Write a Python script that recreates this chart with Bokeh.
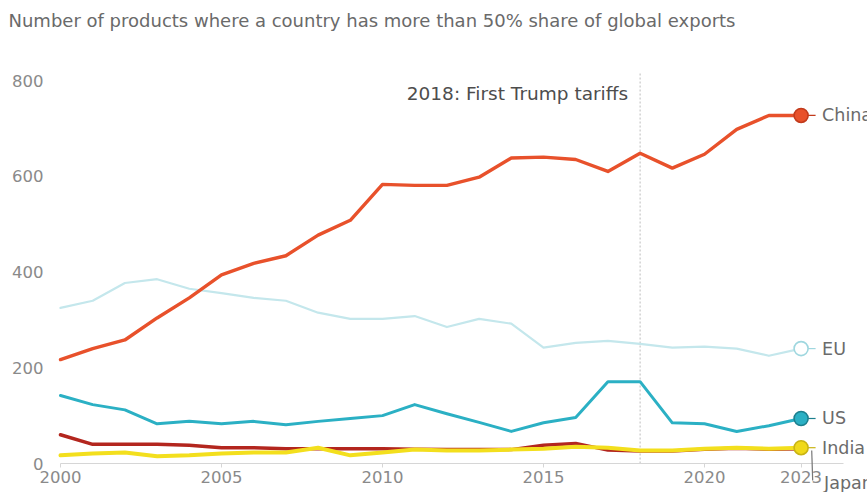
from bokeh.plotting import figure
from bokeh.models import Range1d, FixedTicker, Label, LabelSet, ColumnDataSource, Arrow
from bokeh.core.properties import value
from bokeh.embed import file_html
from bokeh.resources import INLINE

years = list(range(2000, 2024))
china = [217, 240, 258, 304, 346, 394, 418, 434, 477, 508, 583, 581, 581, 598, 638, 640, 635, 610, 648, 617, 646, 698, 727, 727]
eu = [325, 340, 377, 385, 365, 356, 346, 340, 315, 302, 302, 308, 285, 302, 292, 242, 252, 256, 250, 242, 244, 240, 225, 240]
us = [142, 123, 112, 83, 88, 83, 88, 81, 88, 94, 100, 123, 104, 86, 67, 85, 96, 171, 171, 85, 83, 67, 79, 94]
japan = [60, 40, 40, 40, 38, 33, 33, 31, 31, 31, 31, 30, 29, 29, 29, 38, 42, 28, 26, 26, 30, 32, 30, 31]
india = [17, 21, 23, 15, 17, 21, 23, 23, 33, 17, 23, 29, 27, 27, 29, 31, 35, 33, 27, 27, 31, 33, 31, 33]
x_ticks = [2000, 2005, 2010, 2015, 2020, 2023]
y_ticks = [0, 200, 400, 600, 800]
title_text = "Number of products where a country has more than 50% share of global exports"
event_year = 2018
event_text = "2018: First Trump tariffs"

FONT = "DejaVu Sans"
W, H = 867, 492
X0_PX, Y0_PX = 60, 463          # pixel position of (2000, 0)
px_per_year = 32.2
px_per_unit = 0.47875

def cx(px):
    return 2000 + (px - X0_PX) / px_per_year

def cy(py):
    return (Y0_PX - py) / px_per_unit

p = figure(width=W, height=H, output_backend="svg", toolbar_location=None,
           x_range=Range1d(cx(0), cx(W)), y_range=Range1d(cy(H), cy(0)),
           min_border=0, min_border_left=0, min_border_right=0,
           min_border_top=0, min_border_bottom=0)
p.outline_line_color = None
p.grid.visible = False
p.background_fill_color = "white"
p.border_fill_color = "white"

p.xaxis.fixed_location = 0
p.xaxis.bounds = (2000, cx(843))
p.xaxis.ticker = FixedTicker(ticks=x_ticks)
p.xaxis.axis_line_color = "#d6d6d6"
p.xaxis.major_tick_line_color = "#d6d6d6"
p.xaxis.major_tick_in = 0
p.xaxis.major_tick_out = 4
p.xaxis.minor_tick_line_color = None
p.xaxis.major_label_standoff = 3
p.xaxis.major_label_text_font = FONT
p.xaxis.major_label_text_font_size = "16.5px"
p.xaxis.major_label_text_color = "#8a8a8a"

p.yaxis.fixed_location = 2000
p.yaxis.ticker = FixedTicker(ticks=y_ticks)
p.yaxis.axis_line_color = None
p.yaxis.major_tick_line_color = None
p.yaxis.minor_tick_line_color = None
p.yaxis.major_tick_in = 0
p.yaxis.major_tick_out = 0
p.yaxis.major_label_standoff = 17
p.yaxis.major_label_text_font = FONT
p.yaxis.major_label_text_font_size = "16.5px"
p.yaxis.major_label_text_color = "#8a8a8a"

# reference line for the 2018 tariffs
p.segment(x0=[event_year], y0=[0], x1=[event_year], y1=[cy(72)],
          line_color="#bdbdbd", line_width=1, line_dash="2 2")

series = [
    ("EU", eu, "#c4e7ec", 2.2, "white", "#9fd7df"),
    ("US", us, "#2bb0c4", 3, "#2bb0c4", "#1c7f8e"),
    ("Japan", japan, "#b3261e", 3.5, None, None),
    ("India", india, "#f3df1d", 4, "#f0d91a", "#c9b414"),
    ("China", china, "#e8512b", 3.4, "#e8512b", "#c23b1c"),
]

for name, vals, col, lw, fill, outline in series:
    p.line(years, vals, line_color=col, line_width=lw, line_join="round", line_cap="round")

for name, vals, col, lw, fill, outline in series:
    if fill is None:
        continue
    p.segment(x0=[years[-1]], y0=[vals[-1]], x1=[years[-1] + 0.45], y1=[vals[-1]],
              line_color=outline, line_width=1.2)
    p.scatter([years[-1]], [vals[-1]], size=14, fill_color=fill, line_color=outline, line_width=1.6)

lab_names = ["China", "EU", "US", "India"]
lab_vals = [china[-1], eu[-1], us[-1], india[-1]]
src = ColumnDataSource(dict(x=[years[-1]] * 4, y=lab_vals, t=lab_names))
p.add_layout(LabelSet(x="x", y="y", text="t", source=src, x_offset=21, y_offset=0,
                      text_baseline="middle", text_align="left", text_font=value(FONT),
                      text_font_size=value("17.5px"), text_color=value("#6b6b6b")))

p.add_layout(Arrow(end=None, x_start=years[-1] + 0.33, y_start=india[-1] - 6,
                   x_end=years[-1] + 0.36, y_end=cy(480), line_color="#777777", line_width=1.2))
p.add_layout(Label(x=years[-1], y=cy(482), text="Japan", x_offset=23,
                   text_baseline="middle", text_align="left", text_font=FONT,
                   text_font_size="17.5px", text_color="#6b6b6b"))

p.add_layout(Label(x=event_year, y=cy(93), text=event_text, x_offset=-12,
                   text_baseline="middle", text_align="right", text_font=FONT,
                   text_font_size="18.5px", text_color="#4d4d4d"))

p.add_layout(Label(x=cx(8), y=cy(20), text=title_text,
                   text_baseline="middle", text_align="left", text_font=FONT,
                   text_font_size="18px", text_color="#6a6a6a"))

open("out.html", "w").write(file_html(p, INLINE))
